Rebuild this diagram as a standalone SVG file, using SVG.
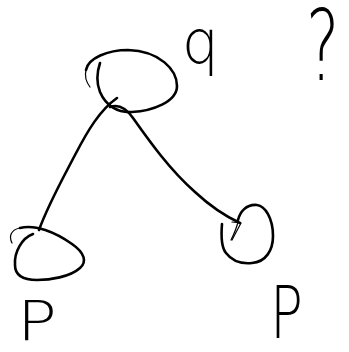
<svg xmlns="http://www.w3.org/2000/svg" width="349" height="352" viewBox="0 0 349 352">
<style>
.s{fill:none;stroke:#000;stroke-width:2.6;stroke-linecap:round;stroke-linejoin:round}
.t{stroke-width:1.2}
.l{font-family:"DejaVu Sans","Liberation Sans",sans-serif;font-weight:200;fill:#000}
</style>
<rect width="349" height="352" fill="#fff"/>
<g id="edges">
<path class="s" d="M117,98 C100,110 88,130 75,155 C62,180 48,205 39,230"/>
<path class="s" d="M110,107 C118,104 126,108 133,118 C150,142 170,170 195,192 C210,206 225,216 240,223"/>
<path class="s t" d="M232,222 L241,223 L232,240"/>
</g>
<g id="node-top">
<path class="s" d="M100,63 C97,72 96,82 100,92 C106,106 118,113 132,112 C152,111 177,102 177,86 C177,70 160,51 128,50 C108,50 88,58 86,70"/>
<path class="s t" d="M86,70 C84,78 87,83 90,87"/>
</g>
<g id="node-left">
<path class="s t" d="M12,243 C9,237 10,230 20,228"/>
<path class="s" d="M20,228 C35,224 55,232 72,244 C85,253 87,262 80,268 C70,277 50,280 37,280 C22,280 15,275 15,265 C14,252 22,238 33,234"/>
</g>
<g id="node-right">
<path class="s" d="M222,224 C221,236 221,247 226,253 C232,261 242,264 252,263 C266,262 273,250 273,236 C273,218 265,206 257,205 C246,204 240,212 238,220"/>
<path class="s t" d="M238,222 C236,230 233,236 231,240"/>
</g>
<g id="labels">
<text class="l" transform="translate(182,63) scale(1.45,1.5)" font-size="40">q</text>
<text class="l" transform="translate(306,80) scale(0.9,1.4)" font-size="70">?</text>
<text class="l" transform="translate(17,340) scale(1.2,1)" font-size="55">P</text>
<text class="l" transform="translate(270,338) scale(1.05,1.4)" font-size="52">P</text>
</g>
</svg>
